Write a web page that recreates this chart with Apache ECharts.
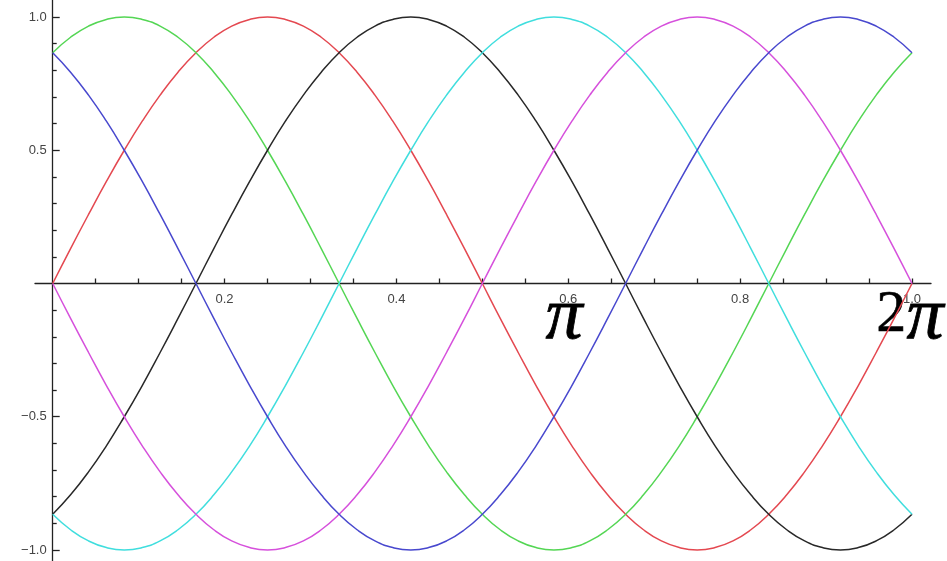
<!DOCTYPE html>
<html>
<head>
<meta charset="utf-8">
<script src="https://cdn.jsdelivr.net/npm/echarts@6/dist/echarts.min.js"></script>
<style>
  html, body { margin: 0; padding: 0; background: #fff; }
  #chart { width: 947px; height: 561px; }
</style>
</head>
<body>
<div id="chart"></div>
<script>
// Sample positions along one period (0 .. 1 stands for 0 .. 2π), 7.5° apart
const xs = [0, 0.0208, 0.0417, 0.0625, 0.0833, 0.1042, 0.125, 0.1458, 0.1667, 0.1875, 0.2083, 0.2292,
            0.25, 0.2708, 0.2917, 0.3125, 0.3333, 0.3542, 0.375, 0.3958, 0.4167, 0.4375, 0.4583, 0.4792,
            0.5, 0.5208, 0.5417, 0.5625, 0.5833, 0.6042, 0.625, 0.6458, 0.6667, 0.6875, 0.7083, 0.7292,
            0.75, 0.7708, 0.7917, 0.8125, 0.8333, 0.8542, 0.875, 0.8958, 0.9167, 0.9375, 0.9583, 0.9792, 1];

// Six phase-shifted waves
const redWave = [0, 0.131, 0.259, 0.383, 0.5, 0.609, 0.707, 0.793, 0.866, 0.924, 0.966, 0.991, 1,
                 0.991, 0.966, 0.924, 0.866, 0.793, 0.707, 0.609, 0.5, 0.383, 0.259, 0.131, 0,
                 -0.131, -0.259, -0.383, -0.5, -0.609, -0.707, -0.793, -0.866, -0.924, -0.966, -0.991, -1,
                 -0.991, -0.966, -0.924, -0.866, -0.793, -0.707, -0.609, -0.5, -0.383, -0.259, -0.131, 0];
const magentaWave = [0, -0.131, -0.259, -0.383, -0.5, -0.609, -0.707, -0.793, -0.866, -0.924, -0.966, -0.991, -1,
                     -0.991, -0.966, -0.924, -0.866, -0.793, -0.707, -0.609, -0.5, -0.383, -0.259, -0.131, 0,
                     0.131, 0.259, 0.383, 0.5, 0.609, 0.707, 0.793, 0.866, 0.924, 0.966, 0.991, 1,
                     0.991, 0.966, 0.924, 0.866, 0.793, 0.707, 0.609, 0.5, 0.383, 0.259, 0.131, 0];
const greenWave = [0.866, 0.924, 0.966, 0.991, 1, 0.991, 0.966, 0.924, 0.866, 0.793, 0.707, 0.609, 0.5,
                   0.383, 0.259, 0.131, 0, -0.131, -0.259, -0.383, -0.5, -0.609, -0.707, -0.793, -0.866,
                   -0.924, -0.966, -0.991, -1, -0.991, -0.966, -0.924, -0.866, -0.793, -0.707, -0.609, -0.5,
                   -0.383, -0.259, -0.131, 0, 0.131, 0.259, 0.383, 0.5, 0.609, 0.707, 0.793, 0.866];
const cyanWave = [-0.866, -0.924, -0.966, -0.991, -1, -0.991, -0.966, -0.924, -0.866, -0.793, -0.707, -0.609, -0.5,
                  -0.383, -0.259, -0.131, 0, 0.131, 0.259, 0.383, 0.5, 0.609, 0.707, 0.793, 0.866,
                  0.924, 0.966, 0.991, 1, 0.991, 0.966, 0.924, 0.866, 0.793, 0.707, 0.609, 0.5,
                  0.383, 0.259, 0.131, 0, -0.131, -0.259, -0.383, -0.5, -0.609, -0.707, -0.793, -0.866];
const blueWave = [0.866, 0.793, 0.707, 0.609, 0.5, 0.383, 0.259, 0.131, 0, -0.131, -0.259, -0.383, -0.5,
                  -0.609, -0.707, -0.793, -0.866, -0.924, -0.966, -0.991, -1, -0.991, -0.966, -0.924, -0.866,
                  -0.793, -0.707, -0.609, -0.5, -0.383, -0.259, -0.131, 0, 0.131, 0.259, 0.383, 0.5,
                  0.609, 0.707, 0.793, 0.866, 0.924, 0.966, 0.991, 1, 0.991, 0.966, 0.924, 0.866];
const blackWave = [-0.866, -0.793, -0.707, -0.609, -0.5, -0.383, -0.259, -0.131, 0, 0.131, 0.259, 0.383, 0.5,
                   0.609, 0.707, 0.793, 0.866, 0.924, 0.966, 0.991, 1, 0.991, 0.966, 0.924, 0.866,
                   0.793, 0.707, 0.609, 0.5, 0.383, 0.259, 0.131, 0, -0.131, -0.259, -0.383, -0.5,
                   -0.609, -0.707, -0.793, -0.866, -0.924, -0.966, -0.991, -1, -0.991, -0.966, -0.924, -0.866];

// Tick positions and labels
const xLabelTicks = [0.2, 0.4, 0.6, 0.8, 1.0];
const xMinorTicks = [0.05, 0.1, 0.15, 0.2, 0.25, 0.3, 0.35, 0.4, 0.45, 0.5, 0.55, 0.6, 0.65, 0.7, 0.75, 0.8, 0.85, 0.9, 0.95, 1.0];
const yLabelTicks = [-1, -0.5, 0.5, 1];
const yMinorTicks = [-0.9, -0.8, -0.7, -0.6, -0.4, -0.3, -0.2, -0.1, 0.1, 0.2, 0.3, 0.4, 0.6, 0.7, 0.8, 0.9];

const waves = [
  { name: 'red', data: redWave, color: 'rgb(228,72,80)' },
  { name: 'green', data: greenWave, color: 'rgb(84,214,84)' },
  { name: 'black', data: blackWave, color: 'rgb(40,40,40)' },
  { name: 'cyan', data: cyanWave, color: 'rgb(64,222,222)' },
  { name: 'magenta', data: magentaWave, color: 'rgb(214,80,220)' },
  { name: 'blue', data: blueWave, color: 'rgb(72,72,206)' }
];

// Axis ranges: the axis lines run a little past the ±1 / 0..1 span
const X_MIN = -0.0206, X_MAX = 1.0221;
const Y_MIN = -1.0413, Y_MAX = 1.0638;
const CHART_W = 947, CHART_H = 561;
const GRID = { left: 35, right: 16, top: 0, bottom: 0 };

// Axes cross at (0, 0): shift each axis from the grid edge to the origin
const gridW = CHART_W - GRID.left - GRID.right;
const gridH = CHART_H - GRID.top - GRID.bottom;
const yAxisShift = -(0 - X_MIN) / (X_MAX - X_MIN) * gridW;
const xAxisShift = -(0 - Y_MIN) / (Y_MAX - Y_MIN) * gridH;

const tickFont = { fontFamily: 'Liberation Sans', fontSize: 13, color: '#444' };
const fmt = v => (v < 0 ? '\u2212' : '') + Math.abs(v).toFixed(1);
const axisStroke = { color: '#222', width: 1.3 };
const piStyle = { font: 'italic 74px "Liberation Serif"', fill: '#000', stroke: '#000', lineWidth: 0.8 };

const chart = echarts.init(document.getElementById('chart'), null, { renderer: 'canvas' });
chart.setOption({
  animation: false,
  backgroundColor: '#fff',
  grid: { ...GRID, containLabel: false, outerBoundsMode: 'none' },
  xAxis: {
    type: 'value',
    position: 'bottom',
    offset: xAxisShift,
    min: X_MIN,
    max: X_MAX,
    axisLine: { show: true, onZero: false, lineStyle: axisStroke },
    axisTick: { show: true, inside: true, length: 5, customValues: xMinorTicks, lineStyle: axisStroke },
    axisLabel: { show: true, customValues: xLabelTicks, margin: 9, formatter: fmt, ...tickFont },
    splitLine: { show: false }
  },
  yAxis: [
    {
      type: 'value',
      position: 'left',
      offset: yAxisShift,
      min: Y_MIN,
      max: Y_MAX,
      axisLine: { show: true, onZero: false, lineStyle: axisStroke },
      axisTick: { show: true, inside: true, length: 7, customValues: yLabelTicks, lineStyle: axisStroke },
      axisLabel: { show: true, customValues: yLabelTicks, margin: 6, formatter: fmt, ...tickFont },
      splitLine: { show: false }
    },
    {
      type: 'value',
      position: 'left',
      offset: yAxisShift,
      min: Y_MIN,
      max: Y_MAX,
      axisLine: { show: false, onZero: false },
      axisTick: { show: true, inside: true, length: 4, customValues: yMinorTicks, lineStyle: axisStroke },
      axisLabel: { show: false },
      splitLine: { show: false }
    }
  ],
  series: waves.map(w => ({
    name: w.name,
    type: 'line',
    smooth: 0.5,
    showSymbol: false,
    data: xs.map((x, i) => [x, w.data[i]]),
    lineStyle: { color: w.color, width: 1.5, join: 'round' },
    itemStyle: { color: w.color }
  })),
  graphic: [
    { type: 'text', left: 545, top: 281, style: { text: '\u03c0', ...piStyle } },
    { type: 'text', left: 876, top: 285,
      style: { text: '2', font: '60px "Liberation Serif"', fill: '#000', stroke: '#000', lineWidth: 0.6 } },
    { type: 'text', left: 906, top: 281, style: { text: '\u03c0', ...piStyle } }
  ]
});
</script>
</body>
</html>
